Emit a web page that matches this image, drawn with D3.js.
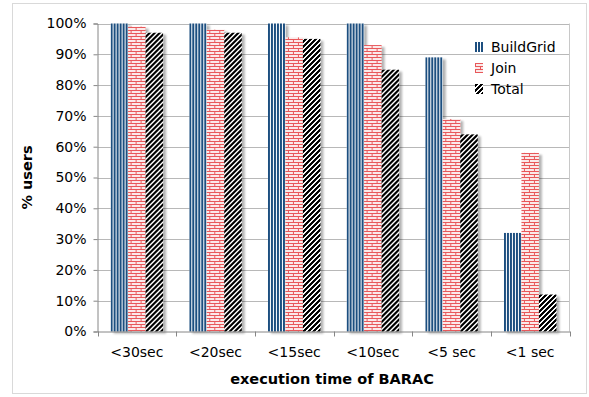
<!DOCTYPE html>
<html>
<head>
<meta charset="utf-8">
<script src="https://cdn.jsdelivr.net/npm/d3@7"></script>
<style>
  html, body { margin: 0; padding: 0; background: #fff; }
  svg { display: block; font-family: "DejaVu Sans", Verdana, sans-serif; }
</style>
</head>
<body>
<svg id="chart" width="589" height="397"></svg>
<script>
// Share of users whose BARAC operations finished under each time limit
const categories = ["<30sec", "<20sec", "<15sec", "<10sec", "<5 sec", "<1 sec"];
const seriesNames = ["BuildGrid", "Join", "Total"];
const buildGrid = [100, 100, 100, 100, 89, 32];
const join = [99, 98, 95.5, 93, 69, 58];
const total = [97, 97, 95, 85, 64, 12];
const yTicks = [0, 10, 20, 30, 40, 50, 60, 70, 80, 90, 100];

const seriesValues = [buildGrid, join, total];

const svg = d3.select("#chart");
const plot = { left: 97.5, right: 569.5, top: 23.5, bottom: 331.5 };
const FONT = "'DejaVu Sans', Verdana, sans-serif";

// Fill patterns for each series
const defs = svg.append("defs");

// vertical navy stripes
const pGrid = defs.append("pattern")
  .attr("id", "pat-buildgrid").attr("patternUnits", "userSpaceOnUse")
  .attr("width", 3).attr("height", 4);
pGrid.append("rect").attr("width", 3).attr("height", 4).attr("fill", "#ffffff");
pGrid.append("rect").attr("x", 0).attr("width", 2).attr("height", 4).attr("fill", "#1d4f80");

// red brick
const pJoin = defs.append("pattern")
  .attr("id", "pat-join").attr("patternUnits", "userSpaceOnUse")
  .attr("width", 10).attr("height", 6);
pJoin.append("rect").attr("width", 10).attr("height", 6).attr("fill", "#fbe9e9");
pJoin.append("path")
  .attr("d", "M0,0.5H10 M0,3.5H10 M0.5,0V3 M5.5,3V6")
  .attr("stroke", "#e8585a").attr("stroke-width", 1).attr("fill", "none")
  .attr("shape-rendering", "crispEdges");

// wide upward diagonal, drawn pixel by pixel for crisp edges
const pTotal = defs.append("pattern")
  .attr("id", "pat-total").attr("patternUnits", "userSpaceOnUse")
  .attr("width", 5).attr("height", 5);
pTotal.append("rect").attr("width", 5).attr("height", 5).attr("fill", "#ffffff");
const diagCells = [];
for (let r = 0; r < 5; r++) {
  for (let k = 0; k < 3; k++) diagCells.push({ x: ((k - r) % 5 + 5) % 5, y: r });
}
pTotal.selectAll("rect.px").data(diagCells).join("rect")
  .attr("class", "px")
  .attr("x", d => d.x).attr("y", d => d.y).attr("width", 1).attr("height", 1)
  .attr("fill", "#000").attr("shape-rendering", "crispEdges");

const shadow = defs.append("filter").attr("id", "shadow")
  .attr("x", "-20%").attr("y", "-5%").attr("width", "150%").attr("height", "115%");
shadow.append("feGaussianBlur").attr("in", "SourceAlpha").attr("stdDeviation", 0.8).attr("result", "b");
shadow.append("feOffset").attr("in", "b").attr("dx", 2.5).attr("dy", 2).attr("result", "o");
shadow.append("feComponentTransfer").attr("in", "o").attr("result", "s")
  .append("feFuncA").attr("type", "linear").attr("slope", 0.3);
const merge = shadow.append("feMerge");
merge.append("feMergeNode").attr("in", "s");
merge.append("feMergeNode").attr("in", "SourceGraphic");

const fills = ["url(#pat-buildgrid)", "url(#pat-join)", "url(#pat-total)"];

// Outer chart border
svg.append("rect")
  .attr("x", 12.5).attr("y", 3.5).attr("width", 574).attr("height", 390)
  .attr("fill", "#fff").attr("stroke", "#d9d9d9");

// Scales
const x0 = d3.scaleBand().domain(categories).range([plot.left, plot.right]).paddingInner(0).paddingOuter(0);
const groupW = x0.bandwidth() / 1.5;
const x1 = d3.scaleBand().domain(seriesNames).range([0, groupW]).padding(0);
const y = d3.scaleLinear().domain([0, 100]).range([plot.bottom, plot.top]);

// Horizontal gridlines
svg.append("g").selectAll("line").data(yTicks.filter(d => d > 0)).join("line")
  .attr("x1", plot.left).attr("x2", plot.right)
  .attr("y1", d => Math.round(y(d)) + 0.5).attr("y2", d => Math.round(y(d)) + 0.5)
  .attr("stroke", "#b8b8b8");

// Plot area right edge
svg.append("line")
  .attr("x1", plot.right).attr("x2", plot.right)
  .attr("y1", plot.top).attr("y2", plot.bottom)
  .attr("stroke", "#c8c8c8");

// Bars
const groups = svg.append("g").selectAll("g").data(categories).join("g")
  .attr("transform", d => `translate(${x0(d) + (x0.bandwidth() - groupW) / 2},0)`);

groups.selectAll("rect").data((c, i) => seriesNames.map((s, k) => ({ s, k, v: seriesValues[k][i] })))
  .join("rect")
  .attr("x", d => x1(d.s))
  .attr("y", d => y(d.v))
  .attr("width", x1.bandwidth())
  .attr("height", d => y(0) - y(d.v))
  .attr("fill", d => fills[d.k])
  .attr("filter", "url(#shadow)");

// Axes
const yAxis = d3.axisLeft(y).tickValues(yTicks).tickSize(4).tickFormat(d => d + "%");
const gy = svg.append("g").attr("transform", `translate(${plot.left},0)`).call(yAxis);
gy.select(".domain").attr("stroke", "#868686");
gy.selectAll(".tick line").attr("stroke", "#868686");
gy.selectAll(".tick text").attr("x", -11).attr("fill", "#000")
  .style("font-size", "14px").style("font-family", FONT);

const xAxis = d3.axisBottom(x0).tickSize(0).tickSizeOuter(0);
const gx = svg.append("g").attr("transform", `translate(0,${plot.bottom})`).call(xAxis);
gx.select(".domain").attr("stroke", "#868686");
gx.selectAll(".tick text").attr("y", 16).attr("fill", "#000")
  .style("font-size", "14px").style("font-family", FONT);

// Category separators on the x axis
const sepX = categories.map(c => x0(c)).concat([plot.right]);
svg.append("g").selectAll("line").data(sepX).join("line")
  .attr("x1", d => Math.round(d) + 0.5).attr("x2", d => Math.round(d) + 0.5)
  .attr("y1", plot.bottom).attr("y2", plot.bottom + 5)
  .attr("stroke", "#868686");

// Axis titles
svg.append("text")
  .attr("x", 332).attr("y", 384)
  .attr("text-anchor", "middle").attr("font-weight", "bold").attr("font-size", "14.5px")
  .text("execution time of BARAC");

svg.append("text")
  .attr("transform", `translate(32,${(plot.top + plot.bottom) / 2}) rotate(-90)`)
  .attr("text-anchor", "middle").attr("font-weight", "bold").attr("font-size", "14.5px")
  .text("% users");

// Legend
const legend = svg.append("g").attr("transform", "translate(475,42)");
const items = legend.selectAll("g").data(seriesNames).join("g")
  .attr("transform", (d, i) => `translate(0,${i * 21})`);
items.append("rect").attr("x", 0).attr("y", 0).attr("width", 8).attr("height", 10)
  .attr("fill", (d, i) => fills[i]);
items.append("text").attr("x", 16).attr("y", 10)
  .attr("font-size", "14px").attr("fill", "#000")
  .text(d => d);
</script>
</body>
</html>
